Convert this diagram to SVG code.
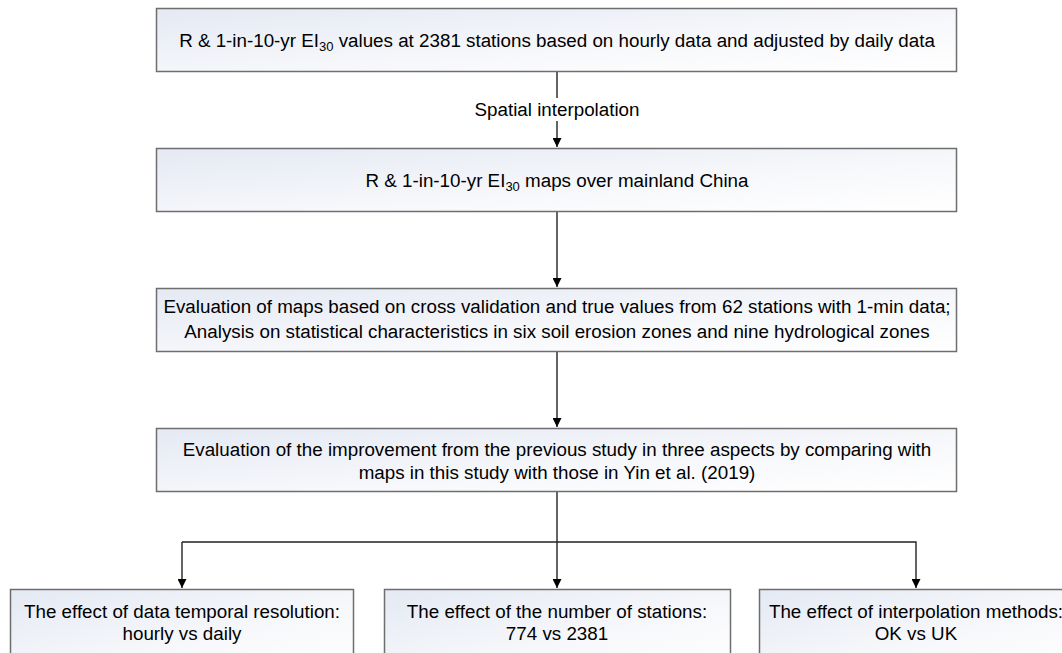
<svg xmlns="http://www.w3.org/2000/svg" width="1062" height="653" viewBox="0 0 1062 653">
<style>
.box{fill:url(#g);stroke:#6e6e6e;stroke-width:1.5}
.t{font-family:"Liberation Sans",Arial,sans-serif;font-size:18.8px;fill:#000;text-anchor:middle}
.c{fill:none;stroke:#222;stroke-width:1.4}
</style>
<defs>
<linearGradient id="g" x1="0" y1="0" x2="1" y2="1">
<stop offset="0" stop-color="#e4e9f3"/>
<stop offset="0.6" stop-color="#f7f8fb"/>
<stop offset="1" stop-color="#ffffff"/>
</linearGradient>
<marker id="a" viewBox="0 0 10 10" refX="10" refY="5" markerWidth="9" markerHeight="9" markerUnits="userSpaceOnUse" orient="auto">
<path d="M0,0 L10,5 L0,10 z" fill="#000"/>
</marker>
</defs>
<rect width="1062" height="653" fill="#fff"/>
<g id="connectors">
<line class="c" x1="557" y1="72" x2="557" y2="147" marker-end="url(#a)"/>
<line class="c" x1="557" y1="212" x2="557" y2="287" marker-end="url(#a)"/>
<line class="c" x1="557" y1="352" x2="557" y2="427" marker-end="url(#a)"/>
<line class="c" x1="557" y1="492" x2="557" y2="542"/>
<polyline class="c" points="182,542 916,542 916,588" marker-end="url(#a)"/>
<line class="c" x1="182" y1="542" x2="182" y2="588" marker-end="url(#a)"/>
<line class="c" x1="557" y1="542" x2="557" y2="588" marker-end="url(#a)"/>
<rect x="470" y="98" width="175" height="23" fill="#fff"/>
<text class="t" x="557" y="116">Spatial interpolation</text>
</g>
<g id="n1">
<rect class="box" x="156.5" y="8.5" width="800" height="63"/>
<text class="t" x="557" y="47">R &amp; 1-in-10-yr EI<tspan font-size="13" dy="4">30</tspan><tspan dy="-4"> values at 2381 stations based on hourly data and adjusted by daily data</tspan></text>
</g>
<g id="n2">
<rect class="box" x="156.5" y="148.5" width="800" height="63"/>
<text class="t" x="557" y="187">R &amp; 1-in-10-yr EI<tspan font-size="13" dy="4">30</tspan><tspan dy="-4"> maps over mainland China</tspan></text>
</g>
<g id="n3">
<rect class="box" x="156.5" y="288.5" width="800" height="63"/>
<text class="t" x="557" y="313">Evaluation of maps based on cross validation and true values from 62 stations with 1-min data;</text>
<text class="t" x="557" y="338">Analysis on statistical characteristics in six soil erosion zones and nine hydrological zones</text>
</g>
<g id="n4">
<rect class="box" x="156.5" y="428.5" width="800" height="63"/>
<text class="t" x="557" y="456">Evaluation of the improvement from the previous study in three aspects by comparing with</text>
<text class="t" x="557" y="479">maps in this study with those in Yin et al. (2019)</text>
</g>
<g id="n5">
<rect class="box" x="10.5" y="589.5" width="343" height="80"/>
<text class="t" x="182" y="618">The effect of data temporal resolution:</text>
<text class="t" x="182" y="640">hourly vs daily</text>
</g>
<g id="n6">
<rect class="box" x="384.5" y="589.5" width="346" height="80"/>
<text class="t" x="557" y="618">The effect of the number of stations:</text>
<text class="t" x="557" y="640">774 vs 2381</text>
</g>
<g id="n7">
<rect class="box" x="759.5" y="589.5" width="314" height="80"/>
<text class="t" x="916" y="618">The effect of interpolation methods:</text>
<text class="t" x="916" y="640">OK vs UK</text>
</g>
</svg>
